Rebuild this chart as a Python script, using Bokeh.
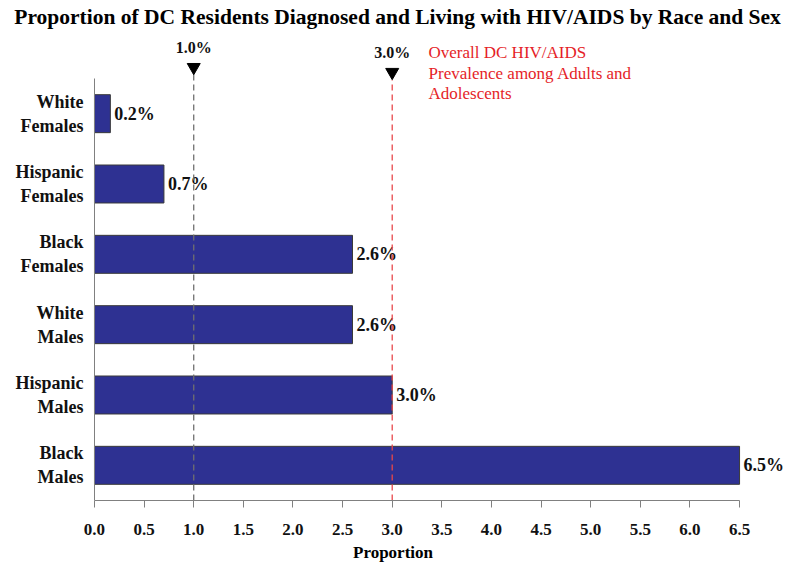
from bokeh.plotting import figure
from bokeh.models import (Range1d, FixedTicker, PrintfTickFormatter, LinearAxis,
                          ColumnDataSource)
from bokeh.core.properties import value
from bokeh.embed import file_html
from bokeh.resources import INLINE

# ---- data ----
categories = ["White\nFemales", "Hispanic\nFemales", "Black\nFemales",
              "White\nMales", "Hispanic\nMales", "Black\nMales"]
values = [0.16, 0.70, 2.60, 2.60, 3.00, 6.50]
label_values = [0.2, 0.7, 2.6, 2.6, 3.0, 6.5]
x_ticks = [0.0, 0.5, 1.0, 1.5, 2.0, 2.5, 3.0, 3.5, 4.0, 4.5, 5.0, 5.5, 6.0, 6.5]
ref_lines = [1.0, 3.0]
ref_labels = ["1.0%", "3.0%"]
note_lines = ["Overall DC HIV/AIDS", "Prevalence among Adults and", "Adolescents"]
title_text = "Proportion of DC Residents Diagnosed and Living with HIV/AIDS by Race and Sex"

SERIF = "Liberation Serif"
BAR = "#2E3192"

n = len(categories)
ypos = [n - 0.5 - i for i in range(n)]          # top category first

src = ColumnDataSource(dict(
    y=ypos,
    val=values,
    lab=[f"{v:.1f}%" for v in label_values],
))

p = figure(width=785, height=565, output_backend="svg", toolbar_location=None,
           x_range=Range1d(-0.947, 6.963), y_range=Range1d(0, 7.109),
           y_axis_location=None,
           min_border_left=0, min_border_right=0, min_border_top=0,
           min_border_bottom=65)
p.outline_line_color = None
p.xgrid.visible = False
p.ygrid.visible = False

# bars
p.hbar(y="y", right="val", left=0, height=0.54, source=src,
       fill_color=BAR, line_color="#3a3a3a", line_width=1)

# value labels
p.text(x="val", y="y", text="lab", source=src, x_offset=4,
       text_baseline="middle", text_align="left",
       text_font=value(SERIF), text_font_style="bold", text_font_size="18px",
       text_color="#111111")

# reference lines with markers and labels
ref_src = ColumnDataSource(dict(
    x=ref_lines,
    lab=ref_labels,
    top=[6.06, 5.98],
    tri=[6.16, 6.09],
    ty=[6.44, 6.37],
    col=["#6f6f6f", "#E8474A"],
))
p.segment(x0="x", y0=0, x1="x", y1="top", source=ref_src, line_color="col",
          line_dash="6 4", line_width=1.3)
p.scatter(x="x", y="tri", source=ref_src, marker="inverted_triangle", size=13,
          fill_color="black", line_color="black")
p.text(x="x", y="ty", text="lab", source=ref_src, text_align="center",
       text_baseline="middle", text_font=value(SERIF), text_font_style="bold",
       text_font_size="16px", text_color="#111111")

# red note
p.text(x=[3.366] * len(note_lines), y=[6.37 - 0.292 * i for i in range(len(note_lines))],
       text=note_lines, text_align="left", text_baseline="middle",
       text_font=value(SERIF), text_font_size="17px", text_color="#E51E28")

# title
p.text(x=[3.054], y=[6.88], text=[title_text], text_align="center",
       text_baseline="middle", text_font=value(SERIF), text_font_style="bold",
       text_font_size="21.5px", text_color="black")

# x axis
xa = p.xaxis[0]
xa.bounds = (0, 6.5)
xa.ticker = FixedTicker(ticks=x_ticks)
xa.formatter = PrintfTickFormatter(format="%.1f")
xa.axis_line_color = "#808080"
xa.major_tick_line_color = "#808080"
xa.major_tick_out = 7
xa.major_tick_in = 0
xa.minor_tick_line_color = None
xa.major_label_standoff = 16
xa.major_label_text_font = SERIF
xa.major_label_text_font_style = "bold"
xa.major_label_text_font_size = "17px"
xa.major_label_text_color = "#111111"
xa.axis_label = "Proportion"
xa.axis_label_standoff = 5
xa.axis_label_text_font = SERIF
xa.axis_label_text_font_style = "bold"
xa.axis_label_text_font_size = "17px"
xa.axis_label_text_color = "black"

# y axis (category axis) fixed at x = 0
ya = LinearAxis(fixed_location=0, bounds=(0, n),
                ticker=FixedTicker(ticks=ypos),
                major_label_overrides={y: c for y, c in zip(ypos, categories)})
ya.axis_line_color = "#808080"
ya.major_tick_line_color = None
ya.minor_tick_line_color = None
ya.major_label_standoff = 5
ya.major_label_text_font = SERIF
ya.major_label_text_font_style = "bold"
ya.major_label_text_font_size = "18px"
ya.major_label_text_color = "#111111"
ya.major_label_text_align = "right"
p.add_layout(ya, "left")

open("out.html", "w").write(file_html(p, INLINE))
